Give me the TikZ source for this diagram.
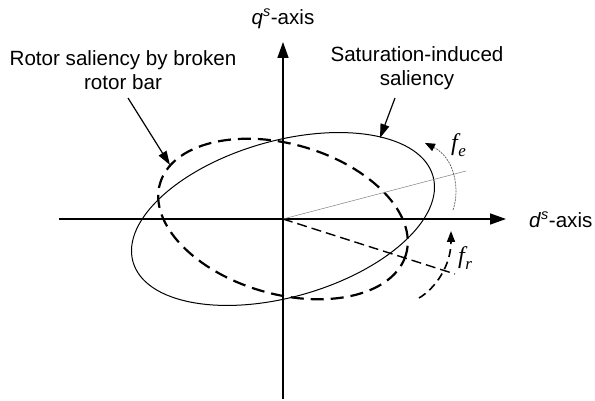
\documentclass[tikz,border=0pt]{standalone}
\usepackage{fontspec}
\setmainfont{Liberation Sans}
\newfontfamily\tnrfont{Liberation Serif}
\usetikzlibrary{arrows.meta}
\newcommand{\fsym}[1]{{\tnrfont\itshape f\kern0.5pt\raisebox{-0.28em}{\fontsize{17}{18}\selectfont #1}}}
\begin{document}
\begin{tikzpicture}[x=1pt,y=-1pt,
  axis/.style={line width=1.6pt,-{Triangle[length=16pt,width=11pt]}},
  lblarrow/.style={line width=1.2pt,-{Triangle[length=14pt,width=9pt]}},
  lbl/.style={font=\fontsize{20.6}{24}\selectfont,align=center,inner sep=0pt},
  flbl/.style={font=\fontsize{24}{28}\selectfont,inner sep=0pt},
  satell/.style={line width=1pt},
  brkell/.style={line width=2.2pt,dash pattern=on 13pt off 7pt},
  radial/.style={line width=1.4pt,dash pattern=on 10pt off 5pt},
  thinline/.style={line width=0.5pt,gray},
  fearc/.style={line width=0.7pt,gray!70!black,dash pattern=on 2pt off 1pt,-{Triangle[length=10pt,width=8pt,color=black,fill=black]}},
  frarc/.style={line width=1.6pt,dash pattern=on 8pt off 5pt,-{Triangle[length=11pt,width=8pt]}}]
\useasboundingbox (0,0) rectangle (595,401);
\coordinate (O) at (283,219);
\coordinate (xl) at (59,219);
\coordinate (xr) at (506,219);
\coordinate (yb) at (283,399);
\coordinate (yt) at (283,42);
% ellipses
\draw[satell,rotate around={16:(O)}] (O) ellipse [x radius=156, y radius=78];
\draw[brkell,rotate around={-16:(O)}] (O) ellipse [x radius=128, y radius=75];
% axes
\draw[axis] (xl) -- (xr);
\draw[axis] (yb) -- (yt);
% radial lines
\coordinate (se) at (466,171);
\coordinate (sr) at (455,274);
\draw[thinline] (O) -- (se);
\draw[radial] (O) -- (sr);
% rotation arcs
\coordinate (fe0) at (453,210);
\coordinate (fe1) at (425,143);
\draw[fearc] (fe0) .. controls (460,190) and (455,158) .. (fe1);
\coordinate (fr0) at (419,298);
\coordinate (fr1) at (451,231);
\draw[frarc] (fr0) .. controls (436,288) and (451,265) .. (fr1);
% labels
\node[lbl] (qlab) at (283,19) {\textit{q}\textsuperscript{\textit{s}}-axis};
\node[lbl,anchor=west] (dlab) at (529,220) {\textit{d}\textsuperscript{\textit{s}}-axis};
\node[lbl] (rlab) at (123,70) {Rotor saliency by broken\\rotor bar};
\node[lbl] (slab) at (417,68) {Saturation-induced\\saliency};
\node[flbl,anchor=west] (felab) at (451,145) {\fsym{e}};
\node[flbl,anchor=west] (frlab) at (458,258) {\fsym{r}};
% label arrows
\coordinate (ra0) at (128,98);
\coordinate (ra1) at (170,165);
\coordinate (sa0) at (395,98);
\coordinate (sa1) at (380,138);
\draw[lblarrow] (ra0) -- (ra1);
\draw[lblarrow] (sa0) -- (sa1);
\end{tikzpicture}
\end{document}
